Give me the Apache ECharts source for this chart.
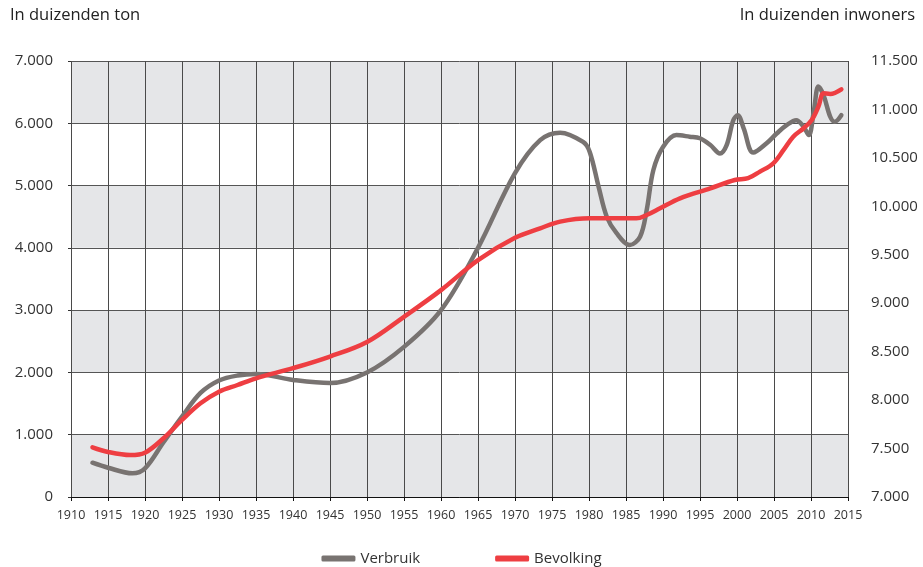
<!DOCTYPE html>
<html>
<head>
<meta charset="utf-8">
<script src="https://cdn.jsdelivr.net/npm/echarts@6/dist/echarts.min.js"></script>
<style>
  html, body { margin: 0; padding: 0; background: #fff; }
  #chart { width: 923px; height: 567px; }
</style>
</head>
<body>
<div id="chart"></div>
<script>
// verbruik (in duizenden ton)
var verbruikJaar = [1912.9, 1915, 1918.3, 1920, 1922.5, 1925, 1927.5, 1930, 1932.5, 1935, 1940, 1945, 1950, 1955, 1960, 1965, 1970, 1973.4, 1976.1, 1979.2, 1980.1, 1981.3, 1982.4, 1983.7, 1985.5, 1986.9, 1987.8, 1988.7, 1990, 1991.8, 1993.6, 1995, 1996.4, 1997.7, 1998.6, 1999.5, 2000.1, 2000.9, 2002.2, 2004, 2005.4, 2006.7, 2008, 2009, 2009.7, 2010.4, 2011, 2011.7, 2012.6, 2013.2, 2014.1];
var verbruik = [550, 470, 380, 460, 880, 1290, 1670, 1870, 1950, 1975, 1880, 1830, 2000, 2410, 3000, 4000, 5200, 5730, 5850, 5700, 5540, 4980, 4500, 4240, 4045, 4180, 4610, 5250, 5620, 5810, 5785, 5760, 5650, 5515, 5650, 6050, 6130, 5920, 5530, 5680, 5840, 5970, 6050, 5945, 5810, 6210, 6590, 6450, 6105, 6025, 6130];
// bevolking (in duizenden inwoners)
var bevolkingJaar = [1912.9, 1915, 1918, 1920, 1922.5, 1925, 1927.5, 1930, 1932.5, 1935, 1940, 1945, 1950, 1955, 1960, 1965, 1970, 1973.4, 1976.1, 1980.1, 1986.4, 1987.8, 1989.6, 1992.3, 1996.4, 1999.7, 2001.5, 2003.1, 2004.9, 2006.3, 2007.6, 2009, 2010.1, 2011, 2011.7, 2012.6, 2014.1];
var bevolking = [7513, 7465, 7433, 7457, 7606, 7795, 7967, 8087, 8156, 8225, 8330, 8450, 8600, 8860, 9135, 9445, 9675, 9773, 9842, 9876, 9876, 9911, 9980, 10083, 10186, 10272, 10290, 10358, 10444, 10582, 10719, 10806, 10892, 11029, 11167, 11160, 11208];

function zip(a, b) {
  var out = [];
  for (var i = 0; i < a.length; i++) out.push([a[i], b[i]]);
  return out;
}
function nl(v) {
  return String(v).replace(/\B(?=(\d{3})+(?!\d))/g, ".");
}

var font = "'Open Sans', 'Noto Sans', sans-serif";
var myChart = echarts.init(document.getElementById("chart"));
var option = {
  animation: false,
  textStyle: { fontFamily: font },
  grid: { left: 71, right: 75, top: 61, bottom: 70 },
  graphic: [
    { type: "text", left: 10, top: 7, style: { text: "In duizenden ton", font: "16.5px " + font, fill: "#222" } },
    { type: "text", right: 8, top: 7, style: { text: "In duizenden inwoners", font: "16.5px " + font, fill: "#222" } },
  ],
  legend: {
    top: 546,
    left: "center",
    itemWidth: 34,
    itemHeight: 6,
    itemGap: 75,
    icon: "roundRect",
    textStyle: { fontSize: 15, color: "#333", fontFamily: font },
    data: ["Verbruik", "Bevolking"],
  },
  xAxis: {
    type: "value",
    min: 1910,
    max: 2015,
    interval: 5,
    axisLine: { lineStyle: { color: "#111", width: 1 } },
    axisTick: { show: true, length: 4, lineStyle: { color: "#111" } },
    axisLabel: { color: "#333", fontSize: 12.5, margin: 12, formatter: function (v) { return v; } },
    splitLine: { show: true, lineStyle: { color: "#4a4a4a", width: 1 } },
  },
  yAxis: [
    {
      type: "value",
      min: 0,
      max: 7000,
      interval: 1000,
      axisLine: { show: false },
      axisTick: { show: true, length: 3, lineStyle: { color: "#333" } },
      axisLabel: { color: "#333", fontSize: 15, margin: 18, formatter: nl },
      splitLine: { show: true, lineStyle: { color: "#555", width: 1 } },
      splitArea: { show: true, areaStyle: { color: ["#e5e6e8", "#ffffff"] } },
    },
    {
      type: "value",
      min: 7000,
      max: 11500,
      interval: 500,
      axisLine: { show: false },
      axisTick: { show: false },
      axisLabel: { color: "#333", fontSize: 15, margin: 23, formatter: nl },
      splitLine: { show: false },
    },
  ],
  series: [
    {
      name: "Verbruik",
      type: "line",
      yAxisIndex: 0,
      smooth: 0.35,
      symbol: "none",
      color: "#787371",
      lineStyle: { width: 4.5, color: "#787371", cap: "round" },
      data: zip(verbruikJaar, verbruik),
      z: 3,
    },
    {
      name: "Bevolking",
      type: "line",
      yAxisIndex: 1,
      smooth: 0.35,
      symbol: "none",
      color: "#ee3e42",
      lineStyle: { width: 4.5, color: "#ee3e42", cap: "round" },
      data: zip(bevolkingJaar, bevolking),
      z: 4,
    },
  ],
};
myChart.setOption(option);
</script>
</body>
</html>
